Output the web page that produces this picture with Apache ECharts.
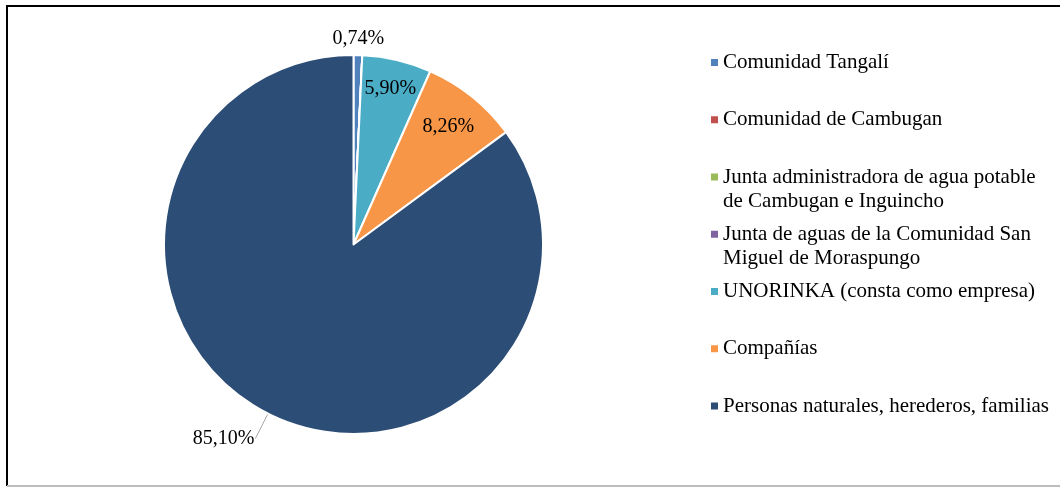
<!DOCTYPE html>
<html>
<head>
<meta charset="utf-8">
<script src="https://cdn.jsdelivr.net/npm/echarts@6/dist/echarts.min.js"></script>
<style>
  html, body { margin: 0; padding: 0; background: #fff; }
  #chart { width: 1060px; height: 487px; }
</style>
</head>
<body>
<div id="chart"></div>
<script>
// Owners of the water concessions and their share of the total
const categories = [
  'Comunidad Tangalí',
  'Comunidad de Cambugan',
  'Junta administradora de agua potable de Cambugan e Inguincho',
  'Junta de aguas de la Comunidad San Miguel de Moraspungo',
  'UNORINKA (consta como empresa)',
  'Compañías',
  'Personas naturales, herederos, familias'
];
const shares = [0.74, 0, 0, 0, 5.90, 8.26, 85.10];

// Legend text split across lines
const legendLines = [
  ['Comunidad Tangalí'],
  ['Comunidad de Cambugan'],
  ['Junta administradora de agua potable', 'de Cambugan e Inguincho'],
  ['Junta de aguas de la Comunidad San', 'Miguel de Moraspungo'],
  ['UNORINKA (consta como empresa)'],
  ['Compañías'],
  ['Personas naturales, herederos, familias']
];

const colors = ['#4F81BD', '#C0504D', '#9BBB59', '#8064A2', '#4BACC6', '#F79646', '#2C4D75'];
const FONT = "'Liberation Serif', 'Times New Roman', serif";

// Radial offset of each percentage label from the rim (negative = inside the slice)
const labelOffsets = { 0: 16, 4: -29, 5: -38, 6: 28 };
const leaderLineItems = { 6: true };

const pieData = categories.map((name, i) => {
  const hasLabel = labelOffsets[i] !== undefined && shares[i] > 0;
  return {
    name: name,
    value: shares[i],
    itemStyle: { color: colors[i] },
    label: {
      show: hasLabel,
      distanceToLabelLine: leaderLineItems[i] ? 1 : 0
    },
    labelLine: {
      show: !!leaderLineItems[i],
      length: hasLabel ? labelOffsets[i] : 10,
      length2: 0
    }
  };
});

const fmtPct = v => v.toFixed(2).replace('.', ',') + '%';

// One legend block per entry so every marker sits on the first text line
const LINE_H = 24;
const legends = categories.map((name, i) => {
  const lines = legendLines[i];
  const text = (lines.length > 1 ? '\n' : '') + lines.join('\n');
  const nLines = lines.length > 1 ? lines.length + 1 : 1;
  const iconCenter = 62.5 + i * 57.25;
  return {
    orient: 'vertical',
    left: 711,
    top: iconCenter - nLines * LINE_H / 2,
    padding: 0,
    itemGap: 0,
    itemWidth: 7,
    itemHeight: 7,
    icon: 'rect',
    selectedMode: false,
    itemStyle: { color: colors[i], borderWidth: 0, borderColor: 'transparent' },
    data: [name],
    formatter: () => text,
    textStyle: { fontFamily: FONT, fontSize: 21, lineHeight: LINE_H, color: '#000' }
  };
});

const chart = echarts.init(document.getElementById('chart'), null, { renderer: 'canvas' });
chart.setOption({
  backgroundColor: '#fff',
  animation: false,
  legend: legends,
  graphic: [
    { type: 'polyline', shape: { points: [[1062, 6], [7, 6], [7, 486]] }, style: { stroke: '#000', lineWidth: 2, fill: null } },
    { type: 'line', shape: { x1: 7, y1: 486, x2: 1062, y2: 486 }, style: { stroke: '#bdbdbd', lineWidth: 2 } }
  ],
  series: [{
    type: 'pie',
    center: [353.5, 244.5],
    radius: 189.5,
    startAngle: 90,
    clockwise: true,
    avoidLabelOverlap: false,
    silent: true,
    itemStyle: { borderColor: '#fff', borderWidth: 2 },
    label: {
      position: 'outside',
      fontFamily: FONT,
      fontSize: 20,
      color: '#000',
      formatter: p => fmtPct(p.value)
    },
    labelLine: { lineStyle: { color: '#a6a6a6', width: 1 }, smooth: false },
    labelLayout: p => (leaderLineItems[p.dataIndex] ? {} : { align: 'center' }),
    data: pieData
  }]
});
</script>
</body>
</html>
